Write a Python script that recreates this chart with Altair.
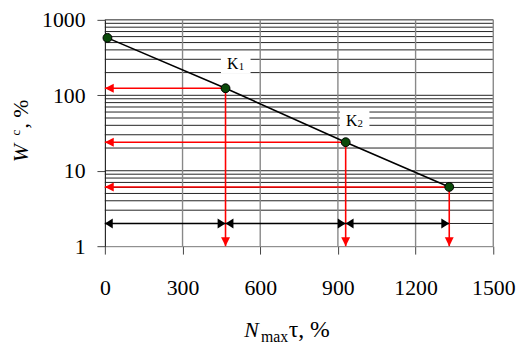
import altair as alt
import pandas as pd

# ---- data ----
point_x = [10, 466, 930, 1330]
point_y = [577, 124, 23.9, 6.1]

proj_x = [466, 930, 1330]
proj_y = [124, 23.9, 6.1]
proj_x0 = [0, 0, 0]
proj_y0 = [1, 1, 1]

span_start = [0, 466, 930]
span_end = [466, 930, 1330]
span_level = [2, 2, 2]

label_main = ["K", "K"]
label_sub = ["1", "2"]
label_x = [494, 953]
label_y = [225, 38.6]

x_tick_values = [0, 300, 600, 900, 1200, 1500]
y_tick_values = [1, 10, 100, 1000]
x_grid_values = [300, 600, 900, 1200, 1500]
y_grid_values = [2, 3, 4, 5, 6, 7, 8, 9, 10, 20, 30, 40, 50, 60, 70, 80, 90,
                 100, 200, 300, 400, 500, 600, 700, 800, 900, 1000]

FONT = "Liberation Serif"

pts = pd.DataFrame({"x": point_x, "y": point_y})
proj = pd.DataFrame({"x": proj_x, "y": proj_y, "x0": proj_x0, "y0": proj_y0})
spans = pd.DataFrame({"s": span_start, "e": span_end, "lv": span_level})
labels = pd.DataFrame({"x": label_x, "y": label_y, "m": label_main, "sub": label_sub})
hgrid = pd.DataFrame({"v": y_grid_values})
vgrid = pd.DataFrame({"v": x_grid_values})

xs = alt.Scale(domain=[0, 1500], nice=False, zero=False)
ys = alt.Scale(type="log", domain=[1, 1000], nice=False)

x_axis = alt.Axis(values=x_tick_values, format="d", title=None, grid=False, labelFont=FONT,
                  labelFontSize=22, labelColor="black", tickColor="#444", tickSize=8,
                  labelPadding=24, domainColor="#777", labelFlush=False)
y_axis = alt.Axis(values=y_tick_values, format="d", title=None, grid=False, labelFont=FONT,
                  labelFontSize=22, labelColor="black", tickColor="#444", tickSize=8,
                  labelPadding=12, domainColor="black")


def X(f):
    return alt.X(f, scale=xs, axis=x_axis)


def Y(f):
    return alt.Y(f, scale=ys, axis=y_axis)


hg = alt.Chart(hgrid).mark_rule(color="#222", strokeWidth=1).encode(y=Y("v:Q"))
vg = alt.Chart(vgrid).mark_rule(color="#888", strokeWidth=1.4).encode(x=X("v:Q"))

red_h = alt.Chart(proj).mark_rule(color="#ff0000", strokeWidth=1.6).encode(
    x=X("x0:Q"), x2="x:Q", y=Y("y:Q"))
red_v = alt.Chart(proj).mark_rule(color="#ff0000", strokeWidth=1.6).encode(
    x=X("x:Q"), y=Y("y0:Q"), y2="y:Q")
red_left = alt.Chart(proj).mark_point(shape="M0,0L1.8,-0.9L1.8,0.9Z", filled=True, size=100,
                                      color="#ff0000", opacity=1, strokeWidth=0).encode(
    x=X("x0:Q"), y=Y("y:Q"))
red_down = alt.Chart(proj).mark_point(shape="M0,0L-0.9,-1.8L0.9,-1.8Z", filled=True, size=100,
                                      color="#ff0000", opacity=1, strokeWidth=0).encode(
    x=X("x:Q"), y=Y("y0:Q"))

blk = alt.Chart(spans).mark_rule(color="black", strokeWidth=1.6).encode(
    x=X("s:Q"), x2="e:Q", y=Y("lv:Q"))
blk_l = alt.Chart(spans).mark_point(shape="M0,0L1.6,-1L1.6,1Z", filled=True, size=100,
                                    color="black", opacity=1, strokeWidth=0).encode(
    x=X("s:Q"), y=Y("lv:Q"))
blk_r = alt.Chart(spans).mark_point(shape="M0,0L-1.6,-1L-1.6,1Z", filled=True, size=100,
                                    color="black", opacity=1, strokeWidth=0).encode(
    x=X("e:Q"), y=Y("lv:Q"))

line = alt.Chart(pts).mark_line(color="black", strokeWidth=1.6).encode(x=X("x:Q"), y=Y("y:Q"))
dots = alt.Chart(pts).mark_point(filled=True, size=80, fill="#0a4a0a", stroke="black",
                                 strokeWidth=1, opacity=1, shape="circle").encode(x=X("x:Q"), y=Y("y:Q"))

boxes = alt.Chart(labels).mark_point(shape="M-1.5,-1.1H1.5V1.1H-1.5Z", filled=True, size=400,
                                     color="white", opacity=1, strokeWidth=0, xOffset=3, yOffset=-6).encode(
    x=X("x:Q"), y=Y("y:Q"))
k_main = alt.Chart(labels).mark_text(font=FONT, fontSize=16, color="black", align="center",
                                     baseline="alphabetic").encode(x=X("x:Q"), y=Y("y:Q"), text="m:N")
k_sub = alt.Chart(labels).mark_text(font=FONT, fontSize=11, color="black", align="left",
                                    baseline="alphabetic", dx=6, dy=1).encode(x=X("x:Q"), y=Y("y:Q"), text="sub:N")


def txt(s, x, y, size, italic=False, angle=0):
    return alt.Chart(pd.DataFrame({"t": [s]})).mark_text(
        font=FONT, fontSize=size, fontStyle="italic" if italic else "normal", color="black",
        align="left", baseline="alphabetic", angle=angle).encode(
        x=alt.value(x), y=alt.value(y), text="t:N")


titles = [
    txt("N", 141, 321, 22, italic=True),
    txt("max", 158, 326, 16),
    txt("τ, %", 186, 321, 24),
    txt("W", -78, 144, 22, italic=True, angle=270),
    txt("c", -86, 117, 13, angle=270),
    txt(", %", -78, 110, 22, angle=270),
]

chart = alt.layer(hg, vg, red_h, red_v, blk, line, red_left, red_down, blk_l, blk_r, dots,
                  boxes, k_main, k_sub, *titles).properties(
    width=393, height=229,
    autosize=alt.AutoSizeParams(type="none"),
    padding={"left": 98, "top": 10, "right": 23, "bottom": 100},
).configure_view(stroke=None)

chart.save("out.html", embed_options={"renderer": "svg", "actions": False})
